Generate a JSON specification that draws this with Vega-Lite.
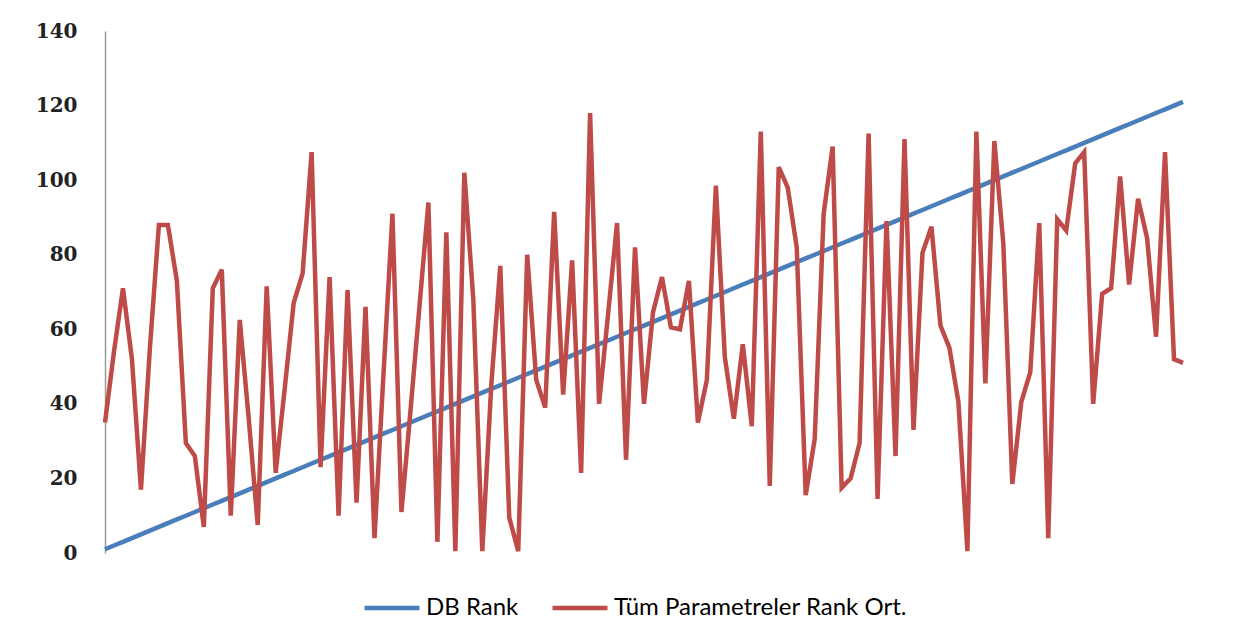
{
  "$schema": "https://vega.github.io/schema/vega-lite/v6.json",
  "width": 1078,
  "height": 522,
  "autosize": {"type": "none"},
  "padding": {"left": 105, "top": 31, "right": 67, "bottom": 87},
  "background": "white",
  "config": {"view": {"stroke": null}},
  "data": {"values": [
    {"i":1,"s":"DB Rank","v":1},{"i":2,"s":"DB Rank","v":2},{"i":3,"s":"DB Rank","v":3},{"i":4,"s":"DB Rank","v":4},{"i":5,"s":"DB Rank","v":5},{"i":6,"s":"DB Rank","v":6},{"i":7,"s":"DB Rank","v":7},{"i":8,"s":"DB Rank","v":8},{"i":9,"s":"DB Rank","v":9},{"i":10,"s":"DB Rank","v":10},
    {"i":11,"s":"DB Rank","v":11},{"i":12,"s":"DB Rank","v":12},{"i":13,"s":"DB Rank","v":13},{"i":14,"s":"DB Rank","v":14},{"i":15,"s":"DB Rank","v":15},{"i":16,"s":"DB Rank","v":16},{"i":17,"s":"DB Rank","v":17},{"i":18,"s":"DB Rank","v":18},{"i":19,"s":"DB Rank","v":19},{"i":20,"s":"DB Rank","v":20},
    {"i":21,"s":"DB Rank","v":21},{"i":22,"s":"DB Rank","v":22},{"i":23,"s":"DB Rank","v":23},{"i":24,"s":"DB Rank","v":24},{"i":25,"s":"DB Rank","v":25},{"i":26,"s":"DB Rank","v":26},{"i":27,"s":"DB Rank","v":27},{"i":28,"s":"DB Rank","v":28},{"i":29,"s":"DB Rank","v":29},{"i":30,"s":"DB Rank","v":30},
    {"i":31,"s":"DB Rank","v":31},{"i":32,"s":"DB Rank","v":32},{"i":33,"s":"DB Rank","v":33},{"i":34,"s":"DB Rank","v":34},{"i":35,"s":"DB Rank","v":35},{"i":36,"s":"DB Rank","v":36},{"i":37,"s":"DB Rank","v":37},{"i":38,"s":"DB Rank","v":38},{"i":39,"s":"DB Rank","v":39},{"i":40,"s":"DB Rank","v":40},
    {"i":41,"s":"DB Rank","v":41},{"i":42,"s":"DB Rank","v":42},{"i":43,"s":"DB Rank","v":43},{"i":44,"s":"DB Rank","v":44},{"i":45,"s":"DB Rank","v":45},{"i":46,"s":"DB Rank","v":46},{"i":47,"s":"DB Rank","v":47},{"i":48,"s":"DB Rank","v":48},{"i":49,"s":"DB Rank","v":49},{"i":50,"s":"DB Rank","v":50},
    {"i":51,"s":"DB Rank","v":51},{"i":52,"s":"DB Rank","v":52},{"i":53,"s":"DB Rank","v":53},{"i":54,"s":"DB Rank","v":54},{"i":55,"s":"DB Rank","v":55},{"i":56,"s":"DB Rank","v":56},{"i":57,"s":"DB Rank","v":57},{"i":58,"s":"DB Rank","v":58},{"i":59,"s":"DB Rank","v":59},{"i":60,"s":"DB Rank","v":60},
    {"i":61,"s":"DB Rank","v":61},{"i":62,"s":"DB Rank","v":62},{"i":63,"s":"DB Rank","v":63},{"i":64,"s":"DB Rank","v":64},{"i":65,"s":"DB Rank","v":65},{"i":66,"s":"DB Rank","v":66},{"i":67,"s":"DB Rank","v":67},{"i":68,"s":"DB Rank","v":68},{"i":69,"s":"DB Rank","v":69},{"i":70,"s":"DB Rank","v":70},
    {"i":71,"s":"DB Rank","v":71},{"i":72,"s":"DB Rank","v":72},{"i":73,"s":"DB Rank","v":73},{"i":74,"s":"DB Rank","v":74},{"i":75,"s":"DB Rank","v":75},{"i":76,"s":"DB Rank","v":76},{"i":77,"s":"DB Rank","v":77},{"i":78,"s":"DB Rank","v":78},{"i":79,"s":"DB Rank","v":79},{"i":80,"s":"DB Rank","v":80},
    {"i":81,"s":"DB Rank","v":81},{"i":82,"s":"DB Rank","v":82},{"i":83,"s":"DB Rank","v":83},{"i":84,"s":"DB Rank","v":84},{"i":85,"s":"DB Rank","v":85},{"i":86,"s":"DB Rank","v":86},{"i":87,"s":"DB Rank","v":87},{"i":88,"s":"DB Rank","v":88},{"i":89,"s":"DB Rank","v":89},{"i":90,"s":"DB Rank","v":90},
    {"i":91,"s":"DB Rank","v":91},{"i":92,"s":"DB Rank","v":92},{"i":93,"s":"DB Rank","v":93},{"i":94,"s":"DB Rank","v":94},{"i":95,"s":"DB Rank","v":95},{"i":96,"s":"DB Rank","v":96},{"i":97,"s":"DB Rank","v":97},{"i":98,"s":"DB Rank","v":98},{"i":99,"s":"DB Rank","v":99},{"i":100,"s":"DB Rank","v":100},
    {"i":101,"s":"DB Rank","v":101},{"i":102,"s":"DB Rank","v":102},{"i":103,"s":"DB Rank","v":103},{"i":104,"s":"DB Rank","v":104},{"i":105,"s":"DB Rank","v":105},{"i":106,"s":"DB Rank","v":106},{"i":107,"s":"DB Rank","v":107},{"i":108,"s":"DB Rank","v":108},{"i":109,"s":"DB Rank","v":109},{"i":110,"s":"DB Rank","v":110},
    {"i":111,"s":"DB Rank","v":111},{"i":112,"s":"DB Rank","v":112},{"i":113,"s":"DB Rank","v":113},{"i":114,"s":"DB Rank","v":114},{"i":115,"s":"DB Rank","v":115},{"i":116,"s":"DB Rank","v":116},{"i":117,"s":"DB Rank","v":117},{"i":118,"s":"DB Rank","v":118},{"i":119,"s":"DB Rank","v":119},{"i":120,"s":"DB Rank","v":120},
    {"i":121,"s":"DB Rank","v":121},
    {"i":1,"s":"Tüm Parametreler Rank Ort.","v":35},{"i":2,"s":"Tüm Parametreler Rank Ort.","v":54},{"i":3,"s":"Tüm Parametreler Rank Ort.","v":71},{"i":4,"s":"Tüm Parametreler Rank Ort.","v":52},{"i":5,"s":"Tüm Parametreler Rank Ort.","v":17},{"i":6,"s":"Tüm Parametreler Rank Ort.","v":55},{"i":7,"s":"Tüm Parametreler Rank Ort.","v":88},{"i":8,"s":"Tüm Parametreler Rank Ort.","v":88},{"i":9,"s":"Tüm Parametreler Rank Ort.","v":73},{"i":10,"s":"Tüm Parametreler Rank Ort.","v":29.5},
    {"i":11,"s":"Tüm Parametreler Rank Ort.","v":26},{"i":12,"s":"Tüm Parametreler Rank Ort.","v":7},{"i":13,"s":"Tüm Parametreler Rank Ort.","v":71},{"i":14,"s":"Tüm Parametreler Rank Ort.","v":76},{"i":15,"s":"Tüm Parametreler Rank Ort.","v":10},{"i":16,"s":"Tüm Parametreler Rank Ort.","v":62.5},{"i":17,"s":"Tüm Parametreler Rank Ort.","v":36},{"i":18,"s":"Tüm Parametreler Rank Ort.","v":7.5},{"i":19,"s":"Tüm Parametreler Rank Ort.","v":71.5},{"i":20,"s":"Tüm Parametreler Rank Ort.","v":21.5},
    {"i":21,"s":"Tüm Parametreler Rank Ort.","v":44},{"i":22,"s":"Tüm Parametreler Rank Ort.","v":67},{"i":23,"s":"Tüm Parametreler Rank Ort.","v":75},{"i":24,"s":"Tüm Parametreler Rank Ort.","v":107.5},{"i":25,"s":"Tüm Parametreler Rank Ort.","v":23},{"i":26,"s":"Tüm Parametreler Rank Ort.","v":74},{"i":27,"s":"Tüm Parametreler Rank Ort.","v":10},{"i":28,"s":"Tüm Parametreler Rank Ort.","v":70.5},{"i":29,"s":"Tüm Parametreler Rank Ort.","v":13.5},{"i":30,"s":"Tüm Parametreler Rank Ort.","v":66},
    {"i":31,"s":"Tüm Parametreler Rank Ort.","v":4},{"i":32,"s":"Tüm Parametreler Rank Ort.","v":48},{"i":33,"s":"Tüm Parametreler Rank Ort.","v":91},{"i":34,"s":"Tüm Parametreler Rank Ort.","v":11},{"i":35,"s":"Tüm Parametreler Rank Ort.","v":38},{"i":36,"s":"Tüm Parametreler Rank Ort.","v":66},{"i":37,"s":"Tüm Parametreler Rank Ort.","v":94},{"i":38,"s":"Tüm Parametreler Rank Ort.","v":3},{"i":39,"s":"Tüm Parametreler Rank Ort.","v":86},{"i":40,"s":"Tüm Parametreler Rank Ort.","v":0.5},
    {"i":41,"s":"Tüm Parametreler Rank Ort.","v":102},{"i":42,"s":"Tüm Parametreler Rank Ort.","v":68},{"i":43,"s":"Tüm Parametreler Rank Ort.","v":0.5},{"i":44,"s":"Tüm Parametreler Rank Ort.","v":45},{"i":45,"s":"Tüm Parametreler Rank Ort.","v":77},{"i":46,"s":"Tüm Parametreler Rank Ort.","v":9.5},{"i":47,"s":"Tüm Parametreler Rank Ort.","v":0.5},{"i":48,"s":"Tüm Parametreler Rank Ort.","v":80},{"i":49,"s":"Tüm Parametreler Rank Ort.","v":46.5},{"i":50,"s":"Tüm Parametreler Rank Ort.","v":39},
    {"i":51,"s":"Tüm Parametreler Rank Ort.","v":91.5},{"i":52,"s":"Tüm Parametreler Rank Ort.","v":42.5},{"i":53,"s":"Tüm Parametreler Rank Ort.","v":78.5},{"i":54,"s":"Tüm Parametreler Rank Ort.","v":21.5},{"i":55,"s":"Tüm Parametreler Rank Ort.","v":118},{"i":56,"s":"Tüm Parametreler Rank Ort.","v":40},{"i":57,"s":"Tüm Parametreler Rank Ort.","v":64},{"i":58,"s":"Tüm Parametreler Rank Ort.","v":88.5},{"i":59,"s":"Tüm Parametreler Rank Ort.","v":25},{"i":60,"s":"Tüm Parametreler Rank Ort.","v":82},
    {"i":61,"s":"Tüm Parametreler Rank Ort.","v":40},{"i":62,"s":"Tüm Parametreler Rank Ort.","v":64.5},{"i":63,"s":"Tüm Parametreler Rank Ort.","v":74},{"i":64,"s":"Tüm Parametreler Rank Ort.","v":60.5},{"i":65,"s":"Tüm Parametreler Rank Ort.","v":60},{"i":66,"s":"Tüm Parametreler Rank Ort.","v":73},{"i":67,"s":"Tüm Parametreler Rank Ort.","v":35},{"i":68,"s":"Tüm Parametreler Rank Ort.","v":46.5},{"i":69,"s":"Tüm Parametreler Rank Ort.","v":98.5},{"i":70,"s":"Tüm Parametreler Rank Ort.","v":52.5},
    {"i":71,"s":"Tüm Parametreler Rank Ort.","v":36},{"i":72,"s":"Tüm Parametreler Rank Ort.","v":56},{"i":73,"s":"Tüm Parametreler Rank Ort.","v":34},{"i":74,"s":"Tüm Parametreler Rank Ort.","v":113},{"i":75,"s":"Tüm Parametreler Rank Ort.","v":18},{"i":76,"s":"Tüm Parametreler Rank Ort.","v":103.5},{"i":77,"s":"Tüm Parametreler Rank Ort.","v":98},{"i":78,"s":"Tüm Parametreler Rank Ort.","v":82},{"i":79,"s":"Tüm Parametreler Rank Ort.","v":15.5},{"i":80,"s":"Tüm Parametreler Rank Ort.","v":30.5},
    {"i":81,"s":"Tüm Parametreler Rank Ort.","v":91},{"i":82,"s":"Tüm Parametreler Rank Ort.","v":109},{"i":83,"s":"Tüm Parametreler Rank Ort.","v":17.5},{"i":84,"s":"Tüm Parametreler Rank Ort.","v":20},{"i":85,"s":"Tüm Parametreler Rank Ort.","v":29.5},{"i":86,"s":"Tüm Parametreler Rank Ort.","v":112.5},{"i":87,"s":"Tüm Parametreler Rank Ort.","v":14.5},{"i":88,"s":"Tüm Parametreler Rank Ort.","v":89},{"i":89,"s":"Tüm Parametreler Rank Ort.","v":26},{"i":90,"s":"Tüm Parametreler Rank Ort.","v":111},
    {"i":91,"s":"Tüm Parametreler Rank Ort.","v":33},{"i":92,"s":"Tüm Parametreler Rank Ort.","v":80.5},{"i":93,"s":"Tüm Parametreler Rank Ort.","v":87.5},{"i":94,"s":"Tüm Parametreler Rank Ort.","v":61},{"i":95,"s":"Tüm Parametreler Rank Ort.","v":55},{"i":96,"s":"Tüm Parametreler Rank Ort.","v":40.5},{"i":97,"s":"Tüm Parametreler Rank Ort.","v":0.5},{"i":98,"s":"Tüm Parametreler Rank Ort.","v":113},{"i":99,"s":"Tüm Parametreler Rank Ort.","v":45.5},{"i":100,"s":"Tüm Parametreler Rank Ort.","v":110.5},
    {"i":101,"s":"Tüm Parametreler Rank Ort.","v":83},{"i":102,"s":"Tüm Parametreler Rank Ort.","v":18.5},{"i":103,"s":"Tüm Parametreler Rank Ort.","v":40.5},{"i":104,"s":"Tüm Parametreler Rank Ort.","v":48.5},{"i":105,"s":"Tüm Parametreler Rank Ort.","v":88.5},{"i":106,"s":"Tüm Parametreler Rank Ort.","v":4},{"i":107,"s":"Tüm Parametreler Rank Ort.","v":89.5},{"i":108,"s":"Tüm Parametreler Rank Ort.","v":86.5},{"i":109,"s":"Tüm Parametreler Rank Ort.","v":104.5},{"i":110,"s":"Tüm Parametreler Rank Ort.","v":107.5},
    {"i":111,"s":"Tüm Parametreler Rank Ort.","v":40},{"i":112,"s":"Tüm Parametreler Rank Ort.","v":69.5},{"i":113,"s":"Tüm Parametreler Rank Ort.","v":71},{"i":114,"s":"Tüm Parametreler Rank Ort.","v":101},{"i":115,"s":"Tüm Parametreler Rank Ort.","v":72},{"i":116,"s":"Tüm Parametreler Rank Ort.","v":95},{"i":117,"s":"Tüm Parametreler Rank Ort.","v":84.5},{"i":118,"s":"Tüm Parametreler Rank Ort.","v":58},{"i":119,"s":"Tüm Parametreler Rank Ort.","v":107.5},{"i":120,"s":"Tüm Parametreler Rank Ort.","v":52},
    {"i":121,"s":"Tüm Parametreler Rank Ort.","v":51}
  ]},
  "mark": {"type": "line", "strokeWidth": 4.5, "clip": false},
  "encoding": {
    "x": {"field": "i", "type": "quantitative", "scale": {"domain": [1, 121], "nice": false, "zero": false}, "axis": null},
    "y": {"field": "v", "type": "quantitative", "scale": {"domain": [0, 140], "nice": false},
      "axis": {"title": null, "values": [0, 20, 40, 60, 80, 100, 120, 140], "grid": false, "ticks": false, "tickSize": 0,
        "domainColor": "#9a9a9a", "domainWidth": 1.5, "labelPadding": 28,
        "labelFont": "DejaVu Serif", "labelFontWeight": "bold", "labelFontSize": 20, "labelColor": "#222222"}},
    "color": {"field": "s", "type": "nominal",
      "scale": {"domain": ["DB Rank", "Tüm Parametreler Rank Ort."], "range": ["#4a7ebb", "#be4b48"]},
      "legend": {"title": null, "orient": "none", "direction": "horizontal", "legendX": 257, "legendY": 547,
        "symbolType": "stroke", "symbolSize": 3025, "symbolStrokeWidth": 4.5, "labelOffset": 4, "columnPadding": 24,
        "labelFont": "Lato", "labelFontSize": 24, "labelColor": "#000000", "labelLimit": 500}}
  }
}
